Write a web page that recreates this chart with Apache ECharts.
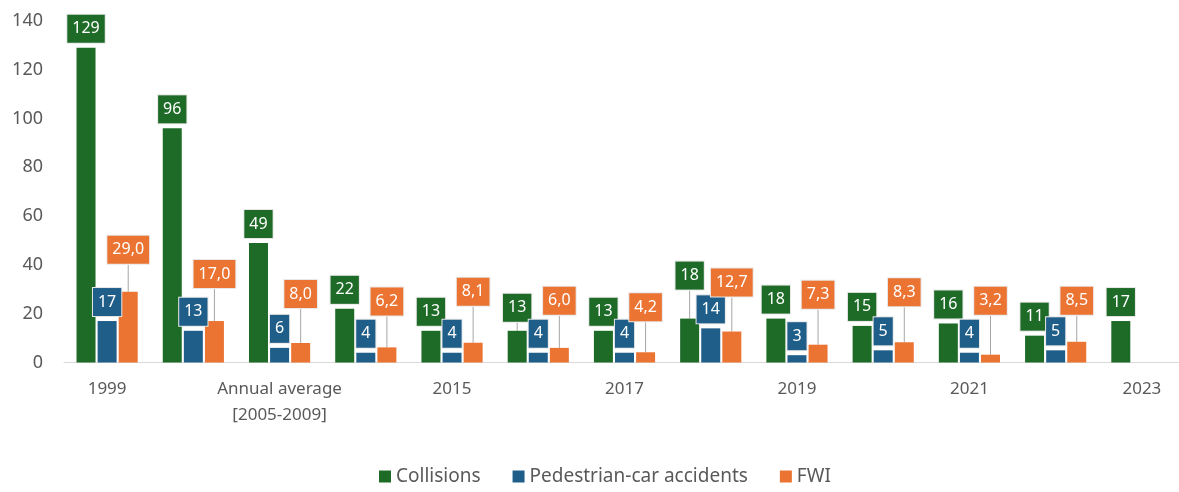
<!DOCTYPE html>
<html>
<head>
<meta charset="utf-8">
<script src="https://cdn.jsdelivr.net/npm/echarts@6/dist/echarts.min.js"></script>
<style>
  html, body { margin: 0; padding: 0; background: #ffffff; }
  #chart { width: 1179px; height: 492px; }
</style>
</head>
<body>
<div id="chart"></div>
<script>
// Categories along the x axis (every other name is printed)
const categories = ['1999', '2004', 'Annual average\n[2005-2009]', '2014', '2015', '2016',
  '2017', '2018', '2019', '2020', '2021', '2022', '2023'];

// Series values
const collisions = [129, 96, 49, 22, 13, 13, 13, 18, 18, 15, 16, 11, 17];
const pedestrianCar = [17, 13, 6, 4, 4, 4, 4, 14, 3, 5, 4, 5, null];
const fwi = [29.0, 17.0, 8.0, 6.2, 8.1, 6.0, 4.2, 12.7, 7.3, 8.3, 3.2, 8.5, null];

// Value axis ticks
const yTicks = [0, 20, 40, 60, 80, 100, 120, 140];

// Colours
const GREEN = '#1e6b28';
const BLUE = '#205e8a';
const ORANGE = '#ec7433';
const TEXT = '#595959';
const FONT = '"Noto Sans", "Open Sans", sans-serif';

// Callouts lifted above their bars (pixels), joined back by a leader line
const calloutLift = {
  Collisions: { 5: 4, 7: 24 },
  FWI: { 0: 23, 1: 28, 2: 30, 3: 27, 4: 32, 5: 28, 6: 26, 7: 30, 8: 31, 9: 31, 10: 35, 11: 22 }
};

const leader = { show: true, lineStyle: { color: '#a6a6a6', width: 1 } };

function buildData(name, values) {
  const lifts = calloutLift[name] || {};
  return values.map((v, i) => (lifts[i] != null ? { value: v, labelLine: leader } : v));
}

function calloutLabel(color, decimals) {
  return {
    show: true,
    position: 'top',
    distance: 5,
    color: '#ffffff',
    fontFamily: FONT,
    fontSize: 16,
    lineHeight: 18,
    backgroundColor: color,
    borderColor: '#e8e8e8',
    borderWidth: 1,
    padding: [5, 5],
    formatter: (p) => (p.value == null ? '' :
      (decimals ? Number(p.value).toFixed(decimals).replace('.', ',') : String(p.value)))
  };
}

function liftLayout(name) {
  const lifts = calloutLift[name] || {};
  return (params) => {
    const dy = lifts[params.dataIndex];
    return dy ? { dy: -dy } : {};
  };
}

function barSeries(name, values, color, decimals) {
  return {
    name: name,
    type: 'bar',
    data: buildData(name, values),
    barWidth: 19,
    barGap: '11%',
    itemStyle: { color: color },
    label: calloutLabel(color, decimals),
    labelLine: { show: false, lineStyle: { color: '#a6a6a6', width: 1 } },
    labelLayout: liftLayout(name),
    animation: false
  };
}

const chart = echarts.init(document.getElementById('chart'), null, { renderer: 'canvas' });

chart.setOption({
  backgroundColor: '#ffffff',
  animation: false,
  grid: {
    left: 64,
    top: 21,
    width: 1121,
    height: 341.5,
    containLabel: false,
    outerBoundsMode: 'none'
  },
  legend: {
    bottom: 1,
    left: 374,
    icon: 'rect',
    itemWidth: 12,
    itemHeight: 12,
    itemGap: 32,
    textStyle: { color: TEXT, fontFamily: FONT, fontSize: 19 },
    data: ['Collisions', 'Pedestrian-car accidents', 'FWI']
  },
  xAxis: {
    type: 'category',
    data: categories,
    axisLine: { show: true, lineStyle: { color: '#d9d9d9', width: 1 } },
    axisTick: { show: false },
    axisLabel: {
      interval: 1,
      color: TEXT,
      fontFamily: FONT,
      fontSize: 17,
      lineHeight: 26,
      margin: 14
    }
  },
  yAxis: {
    type: 'value',
    min: yTicks[0],
    max: yTicks[yTicks.length - 1],
    interval: yTicks[1] - yTicks[0],
    axisLine: { show: false },
    axisTick: { show: false },
    splitLine: { show: false },
    axisLabel: { color: TEXT, fontFamily: FONT, fontSize: 18, margin: 21 }
  },
  series: [
    barSeries('Collisions', collisions, GREEN, 0),
    barSeries('Pedestrian-car accidents', pedestrianCar, BLUE, 0),
    Object.assign(barSeries('FWI', fwi, ORANGE, 1), { labelLine: leader })
  ]
});
</script>
</body>
</html>
